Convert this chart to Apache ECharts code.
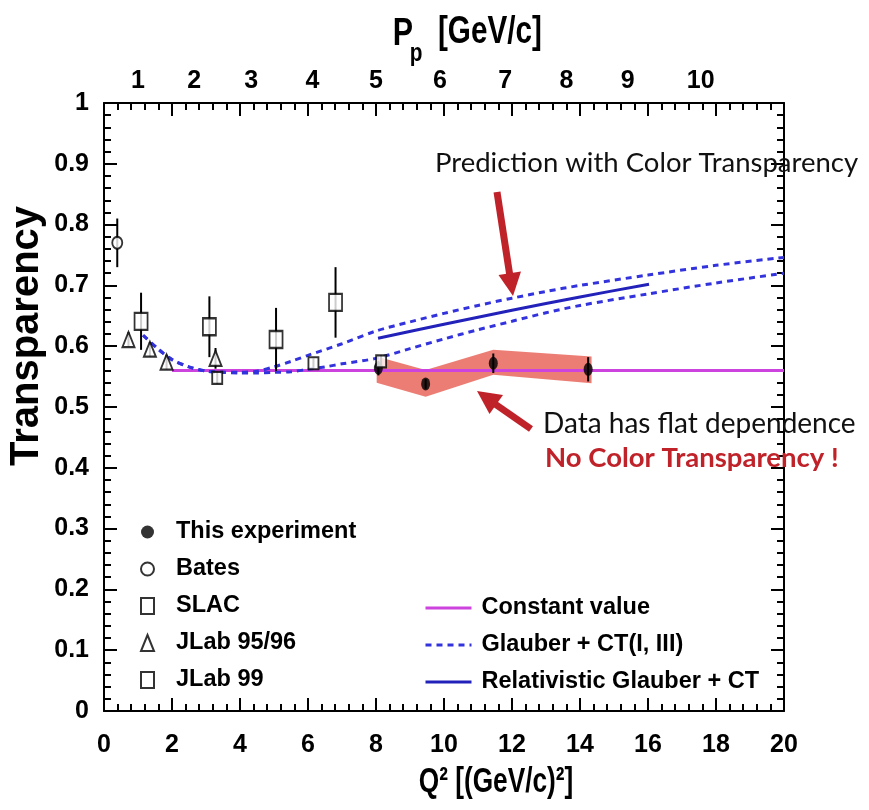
<!DOCTYPE html>
<html><head><meta charset="utf-8">
<script src="https://cdn.jsdelivr.net/npm/echarts@6/dist/echarts.min.js"></script>
<style>html,body{margin:0;padding:0;background:#fff}#c{width:869px;height:810px}</style>
</head><body><div id="c"></div><script>
// ---- data ----
const thisExpQ2 = [8.07, 9.46, 11.45, 14.24];
const thisExpT = [0.564, 0.538, 0.572, 0.562];
const thisExpErr = [0.012, 0.008, 0.016, 0.02];
const batesQ2 = [0.39];
const batesT = [0.770];
const batesErr = [0.04];
const slacQ2 = [1.09, 3.10, 5.06, 6.81];
const slacT = [0.641, 0.632, 0.611, 0.672];
const slacErr = [0.047, 0.05, 0.052, 0.058];
const jlab9596Q2 = [0.72, 1.35, 1.84, 3.28];
const jlab9596T = [0.611, 0.595, 0.574, 0.580];
const jlab9596Err = [0.012, 0.012, 0.012, 0.017];
const jlab99Q2 = [3.33, 6.16, 8.15];
const jlab99T = [0.548, 0.572, 0.575];
const jlab99Err = [0.01, 0.008, 0.01];
const bandQ2 = [8.02, 9.46, 11.45, 14.34];
const bandHi = [0.583, 0.561, 0.594, 0.583];
const bandLo = [0.540, 0.517, 0.553, 0.539];
const constQ2 = [2, 20];
const constT = [0.56, 0.56];
const glauberUpperQ2 = [1.15, 1.6, 2.0, 2.5, 3.0, 3.5, 4.0, 4.5, 5.0, 5.5, 6.0, 7.0, 8.0, 9.0, 10, 11, 12, 13, 14, 16, 18, 20];
const glauberUpperT = [0.618, 0.595, 0.578, 0.566, 0.559, 0.557, 0.557, 0.559, 0.566, 0.575, 0.585, 0.604, 0.625, 0.640, 0.654, 0.667, 0.679, 0.690, 0.700, 0.717, 0.733, 0.746];
const glauberLowerQ2 = [1.15, 1.6, 2.0, 2.5, 3.0, 3.5, 4.0, 4.5, 5.0, 5.5, 6.0, 6.5, 7.0, 8.0, 9.0, 10, 11, 12, 13, 14, 16, 18, 20];
const glauberLowerT = [0.618, 0.595, 0.578, 0.566, 0.559, 0.557, 0.556, 0.556, 0.557, 0.558, 0.562, 0.566, 0.571, 0.580, 0.596, 0.612, 0.627, 0.641, 0.655, 0.667, 0.686, 0.704, 0.720];
const relGlauberQ2 = [8.06, 10, 12, 14, 16.03];
const relGlauberT = [0.613, 0.636, 0.659, 0.681, 0.702];
const topLabelQ2 = [1.0, 2.65, 4.33, 6.13, 8.0, 9.88, 11.8, 13.6, 15.4, 17.55];
const topLabelP = ['1', '2', '3', '4', '5', '6', '7', '8', '9', '10'];

// ---- helpers ----
const zip = (a, b) => a.map((v, i) => [v, b[i]]);
const errRows = (q, t, e) => q.map((v, i) => [v, t[i] - e[i], t[i] + e[i]]);
const SANS = '"Liberation Sans", Arial, sans-serif';
const ANNO = 'Lato, "Open Sans", sans-serif';

function errSeries(q, t, e) {
  return {
    type: 'custom', xAxisIndex: 0, yAxisIndex: 0, z: 3, silent: true,
    data: errRows(q, t, e),
    encode: { x: 0, y: [1, 2] },
    renderItem: function (params, api) {
      const p1 = api.coord([api.value(0), api.value(1)]);
      const p2 = api.coord([api.value(0), api.value(2)]);
      return { type: 'line', shape: { x1: p1[0], y1: p1[1], x2: p2[0], y2: p2[1] },
               style: { stroke: '#000', lineWidth: 2 } };
    }
  };
}

const axisCommon = {
  min: 0,
  axisLine: { show: true, onZero: false, lineStyle: { color: '#000', width: 2 } },
  axisTick: { show: true, inside: true, length: 13, lineStyle: { color: '#000', width: 2 } },
  minorTick: { show: true, splitNumber: 5, length: 7, lineStyle: { color: '#000', width: 2 } },
  splitLine: { show: false }
};
const labelStyle = { color: '#000', fontFamily: SANS, fontWeight: 'bold', fontSize: 25 };

const chart = echarts.init(document.getElementById('c'));
const gridBox = { left: 104, right: 85, top: 103, bottom: 99 };

const option = {
  backgroundColor: '#fff',
  animation: false,
  grid: [Object.assign({}, gridBox), Object.assign({}, gridBox)],
  xAxis: [
    Object.assign({}, axisCommon, { type: 'value', gridIndex: 0, position: 'bottom', max: 20, interval: 2,
      axisLabel: Object.assign({ margin: 22 }, labelStyle) }),
    Object.assign({}, axisCommon, { type: 'value', gridIndex: 0, position: 'top', max: 20, interval: 2,
      axisLabel: { show: false } }),
    { type: 'value', gridIndex: 1, position: 'top', min: 0, max: 20,
      axisLine: { show: false }, axisTick: { show: false }, splitLine: { show: false },
      axisLabel: Object.assign({ margin: 9, customValues: topLabelQ2,
        formatter: function (v) { const i = topLabelQ2.findIndex(q => Math.abs(q - v) < 1e-6); return i >= 0 ? topLabelP[i] : ''; } }, labelStyle) }
  ],
  yAxis: [
    Object.assign({}, axisCommon, { type: 'value', gridIndex: 0, position: 'left', max: 1, interval: 0.1,
      axisLabel: Object.assign({ margin: 15 }, labelStyle) }),
    Object.assign({}, axisCommon, { type: 'value', gridIndex: 0, position: 'right', max: 1, interval: 0.1,
      axisLabel: { show: false } }),
    { type: 'value', gridIndex: 1, min: 0, max: 1, show: false }
  ],
  legend: [
    { data: ['This experiment', 'Bates', 'SLAC', 'JLab 95/96', 'JLab 99'], orient: 'vertical',
      left: 135, top: 515, itemWidth: 13, itemHeight: 16, itemGap: 13, selectedMode: false,
      textStyle: { color: '#000', fontFamily: SANS, fontWeight: 'bold', fontSize: 23.5, padding: [0, 0, 0, 17] } },
    { data: ['Constant value', 'Glauber + CT(I, III)', 'Relativistic Glauber + CT'], orient: 'vertical',
      left: 419, top: 591, itemWidth: 46, itemHeight: 16, itemGap: 13, selectedMode: false,
      itemStyle: { opacity: 0 }, lineStyle: { width: 3 },
      textStyle: { color: '#000', fontFamily: SANS, fontWeight: 'bold', fontSize: 23.5, padding: [0, 0, 0, 5] } }
  ],
  series: [
    { // shaded band of this experiment
      type: 'custom', xAxisIndex: 0, yAxisIndex: 0, z: 1, silent: true,
      data: [[bandQ2[0], bandLo[0]]],
      renderItem: function (params, api) {
        const pts = [];
        bandQ2.forEach((q, i) => pts.push(api.coord([q, bandHi[i]])));
        for (let i = bandQ2.length - 1; i >= 0; i--) pts.push(api.coord([bandQ2[i], bandLo[i]]));
        return { type: 'polygon', shape: { points: pts }, style: { fill: 'rgba(230,96,86,0.82)' } };
      }
    },
    { name: 'Constant value', type: 'line', data: zip(constQ2, constT), symbol: 'none', z: 2,
      lineStyle: { color: '#cc44dd', width: 3 }, itemStyle: { color: '#cc44dd' } },
    { name: 'Glauber + CT(I, III)', type: 'line', data: zip(glauberUpperQ2, glauberUpperT), symbol: 'none', smooth: 0.3, z: 2,
      lineStyle: { color: '#3333dd', width: 3, type: [6, 5] }, itemStyle: { color: '#3333dd' } },
    { name: 'Glauber + CT(I, III)', type: 'line', data: zip(glauberLowerQ2, glauberLowerT), symbol: 'none', smooth: 0.3, z: 2,
      lineStyle: { color: '#3333dd', width: 3, type: [6, 5] }, itemStyle: { color: '#3333dd' } },
    { name: 'Relativistic Glauber + CT', type: 'line', data: zip(relGlauberQ2, relGlauberT), symbol: 'none', smooth: 0.3, z: 2,
      lineStyle: { color: '#2222bb', width: 3 }, itemStyle: { color: '#2222bb' } },
    errSeries(thisExpQ2, thisExpT, thisExpErr),
    errSeries(batesQ2, batesT, batesErr),
    errSeries(slacQ2, slacT, slacErr),
    errSeries(jlab9596Q2, jlab9596T, jlab9596Err),
    errSeries(jlab99Q2, jlab99T, jlab99Err),
    { name: 'This experiment', type: 'scatter', data: zip(thisExpQ2, thisExpT), symbol: 'circle', symbolSize: [9, 13], z: 5,
      itemStyle: { color: '#000' } },
    { name: 'Bates', type: 'scatter', data: zip(batesQ2, batesT), symbol: 'circle', symbolSize: [10, 12], z: 5,
      itemStyle: { color: '#fff', borderColor: '#000', borderWidth: 2 } },
    { name: 'SLAC', type: 'scatter', data: zip(slacQ2, slacT), symbol: 'rect', symbolSize: [13, 17], z: 5,
      itemStyle: { color: '#fff', borderColor: '#000', borderWidth: 2 } },
    { name: 'JLab 95/96', type: 'scatter', data: zip(jlab9596Q2, jlab9596T), symbol: 'triangle', symbolSize: [12, 15], z: 5,
      itemStyle: { color: '#fff', borderColor: '#000', borderWidth: 2 } },
    { name: 'JLab 99', type: 'scatter', data: zip(jlab99Q2, jlab99T), symbol: 'rect', symbolSize: [10, 12], z: 5,
      itemStyle: { color: '#fff', borderColor: '#000', borderWidth: 2 } }
  ],
  graphic: [
    { type: 'text', x: 27, y: 336, rotation: Math.PI / 2, z: 10,
      style: { text: 'Transparency', fill: '#000', font: 'bold 40px ' + SANS, align: 'center', verticalAlign: 'middle' } },
    { type: 'text', x: 496, y: 782, scaleX: 0.75, z: 10,
      style: { text: 'Q\u00B2 [(GeV/c)\u00B2]', fill: '#000', font: 'bold 35px ' + SANS, align: 'center', verticalAlign: 'middle' } },
    { type: 'text', x: 403, y: 35, scaleX: 0.8, z: 10,
      style: { text: 'P', fill: '#000', font: 'bold 38px ' + SANS, align: 'center', verticalAlign: 'middle' } },
    { type: 'text', x: 416, y: 54, scaleX: 0.8, z: 10,
      style: { text: 'p', fill: '#000', font: 'bold 26px ' + SANS, align: 'center', verticalAlign: 'middle' } },
    { type: 'text', x: 438, y: 33, scaleX: 0.78, z: 10,
      style: { text: '[GeV/c]', fill: '#000', font: 'bold 38px ' + SANS, align: 'left', verticalAlign: 'middle' } },
    { type: 'text', x: 435, y: 163, z: 10,
      style: { text: 'Prediction with Color Transparency', fill: '#111', font: '27.5px ' + ANNO, align: 'left', verticalAlign: 'middle' } },
    { type: 'text', x: 543, y: 424, z: 10,
      style: { text: 'Data has flat dependence', fill: '#111', font: '28px ' + ANNO, align: 'left', verticalAlign: 'middle' } },
    { type: 'text', x: 545, y: 458, z: 10,
      style: { text: 'No Color Transparency !', fill: '#c0222a', font: 'bold 27.5px ' + ANNO, align: 'left', verticalAlign: 'middle' } },
    // arrows
    { type: 'line', z: 10, shape: { x1: 497, y1: 192, x2: 509.6, y2: 274 }, style: { stroke: '#c0222a', lineWidth: 7 } },
    { type: 'polygon', z: 10, shape: { points: [[513, 296], [521, 271.6], [498.5, 275]] }, style: { fill: '#c0222a' } },
    { type: 'line', z: 10, shape: { x1: 531, y1: 429, x2: 495, y2: 404 }, style: { stroke: '#c0222a', lineWidth: 7 } },
    { type: 'polygon', z: 10, shape: { points: [[477, 391], [503, 395], [489.5, 414]] }, style: { fill: '#c0222a' } }
  ]
};
chart.setOption(option);
</script></body></html>
